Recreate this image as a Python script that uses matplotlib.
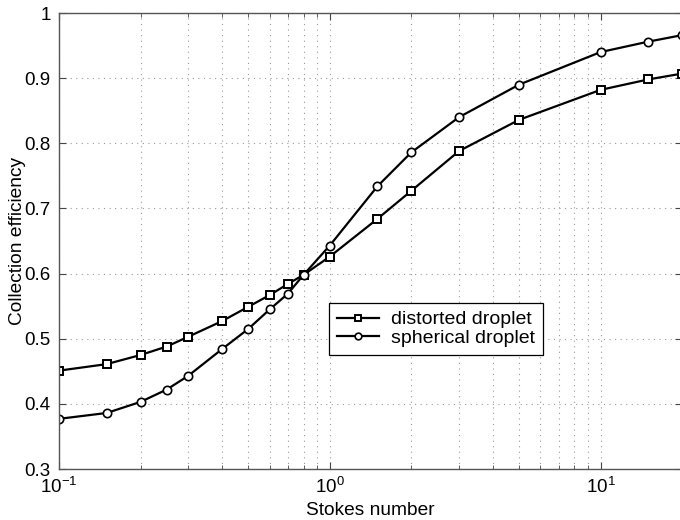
import matplotlib
matplotlib.use("Agg")
import matplotlib.pyplot as plt
from matplotlib.ticker import LogLocator, NullFormatter

plt.rcParams['font.family'] = ['Liberation Sans', 'DejaVu Sans']
plt.rcParams['mathtext.default'] = 'regular'

stokes = [0.1, 0.15, 0.2, 0.25, 0.3, 0.4, 0.5, 0.6, 0.7, 0.8, 1.0, 1.5, 2, 3, 5, 10, 15, 20]
distorted = [0.451, 0.461, 0.475, 0.488, 0.503, 0.527, 0.549, 0.567, 0.584, 0.598,
             0.626, 0.684, 0.727, 0.788, 0.836, 0.882, 0.898, 0.907]
spherical = [0.377, 0.386, 0.403, 0.422, 0.443, 0.484, 0.515, 0.545, 0.569, 0.598,
             0.643, 0.734, 0.786, 0.840, 0.890, 0.940, 0.956, 0.966]
labels = ["distorted droplet", "spherical droplet"]
yticks = [0.3, 0.4, 0.5, 0.6, 0.7, 0.8, 0.9, 1.0]
yticklabels = ["0.3", "0.4", "0.5", "0.6", "0.7", "0.8", "0.9", "1"]

fig = plt.figure(figsize=(6.8, 5.2), dpi=100)
ax = fig.add_axes([59/680, 1 - 469/520, 1.003 - 59/680, (469 - 13)/520])

ax.plot(stokes, distorted, '-', color='black', lw=1.6, marker='s', ms=5.2,
        mfc='white', mec='black', mew=1.4, label=labels[0])
ax.plot(stokes, spherical, '-', color='black', lw=1.6, marker='o', ms=6,
        mfc='white', mec='black', mew=1.2, label=labels[1])

ax.set_xscale('log')
ax.set_xlim(0.1, 20)
ax.set_ylim(0.3, 1.0)
ax.set_yticks(yticks)
ax.set_yticklabels(yticklabels)
ax.xaxis.set_major_locator(LogLocator(base=10))
ax.xaxis.set_minor_locator(LogLocator(base=10, subs=range(2, 10)))
ax.xaxis.set_minor_formatter(NullFormatter())

ax.grid(True, which='major', axis='both', linestyle=(0, (1, 4)), color='#999999', lw=0.8)
ax.grid(True, which='minor', axis='x', linestyle=(0, (1, 4)), color='#999999', lw=0.8)

ax.tick_params(which='both', direction='in', top=True, right=True, colors='#444444',
               labelcolor='black')
ax.tick_params(which='major', length=5, labelsize=13.5, pad=6)
ax.tick_params(which='minor', length=3)
for s in ax.spines.values():
    s.set_color('#555555')
    s.set_linewidth(1.0)

ax.set_xlabel("Stokes number", fontsize=13.8, labelpad=3)
ax.set_ylabel("Collection efficiency", fontsize=13.8, labelpad=-1)

leg = ax.legend(loc='upper left', bbox_to_anchor=((328 - 59)/621, (469 - 303)/456),
                borderaxespad=0, fancybox=False, edgecolor='black', framealpha=1,
                fontsize=14, handlelength=2.2, markerscale=0.8,
                borderpad=0.4, labelspacing=0.05, handletextpad=0.6)
leg.get_frame().set_linewidth(0.9)

fig.savefig("out.png", dpi=100)
